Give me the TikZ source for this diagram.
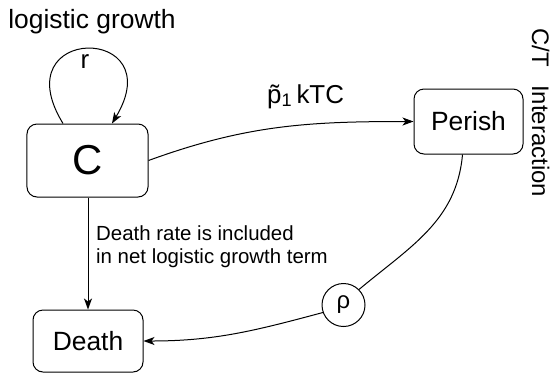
\documentclass[tikz,border=0pt]{standalone}
\usepackage{fontspec}
\setmainfont{Liberation Sans}
\usetikzlibrary{arrows.meta}
\begin{document}
\begin{tikzpicture}[x=1bp,y=-1bp,
  box/.style={draw, rounded corners=10bp, line width=1bp, inner sep=0pt},
  conn/.style={line width=1bp, -{Stealth[length=11bp,width=8bp,inset=3bp]}},
  plain/.style={line width=1bp},
  lbl/.style={inner sep=0pt}]
\useasboundingbox (0,0) rectangle (555,373);
\node[box, minimum width=121bp, minimum height=73bp] (C) at (87.5,160.5) {\fontsize{42}{46}\selectfont C};
\node[box, minimum width=109bp, minimum height=65bp] (P) at (468.5,121.5) {\fontsize{26.5}{30}\selectfont Perish};
\node[box, minimum width=110bp, minimum height=62bp] (D) at (88,341) {\fontsize{26.5}{30}\selectfont Death};
\node[draw, circle, line width=1bp, minimum size=43bp, inner sep=0pt] (rho) at (343.5,305) {\fontsize{24}{28}\selectfont ρ};
\node[lbl, anchor=base] (lg) at (92,28) {\fontsize{26.5}{30}\selectfont logistic growth};
\node[lbl, anchor=base] (r) at (85,68) {\fontsize{26}{30}\selectfont r};
\node[lbl, anchor=base west] (p) at (267,103) {\fontsize{26}{30}\selectfont \~{p}\textsubscript{1}\,kTC};
\node[lbl, anchor=base west] (dr1) at (96,240) {\fontsize{20.5}{24}\selectfont Death rate is included};
\node[lbl, anchor=base west] (dr2) at (96,263) {\fontsize{20.5}{24}\selectfont in net logistic growth term};
\node[lbl, anchor=base west, rotate=-90] (ct) at (532,28) {\fontsize{24}{28}\selectfont C/T\hspace{0.5em} Interaction};
\coordinate (ls) at ([xshift=-24.5bp]C.north);
\coordinate (le) at ([xshift=24.5bp]C.north);
\draw[conn] (ls) .. controls (2,24) and (172,24) .. (le);
\draw[conn] (C.east) to[out=20,in=180] (P.west);
\draw[conn] (C.south -| D.north) -- (D.north);
\draw[plain] ([xshift=-6bp]P.south) to[out=-95,in=40] (rho.45);
\draw[conn] (rho.200) to[out=195,in=0] (D.east);
\end{tikzpicture}
\end{document}
